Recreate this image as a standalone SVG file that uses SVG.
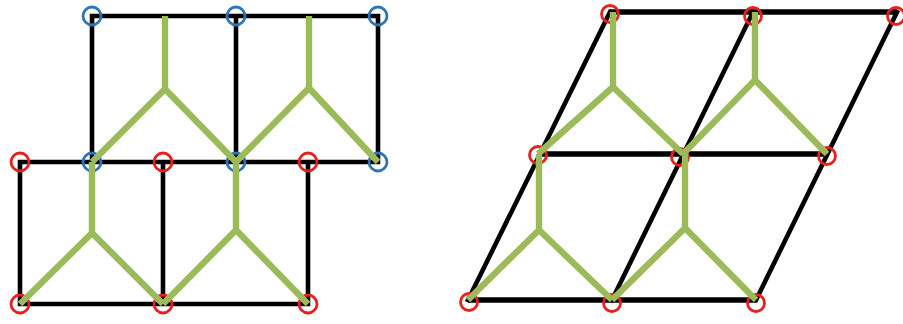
<svg xmlns="http://www.w3.org/2000/svg" width="903" height="324" viewBox="0 0 903 324">
<style>
.k{stroke:#000;stroke-width:4.6;stroke-linecap:square;fill:none}
.kh{stroke:#000;stroke-width:5.6;stroke-linecap:butt;fill:none}
.g{stroke:#9bbb59;stroke-width:6.4;stroke-linecap:butt;stroke-linejoin:miter;fill:none}
.b{stroke:#2e75b6;stroke-width:2.8;fill:none}
.r{stroke:#e8201c;stroke-width:2.8;fill:none}
</style>
<rect width="903" height="324" fill="#fff"/>
<g id="connectors">
<g id="lattice-left">
<path class="k" d="M92,16H378V162H20V304H308V162M92,16V162M236,16V162M163,162V304"/>
</g>
<g id="lattice-right">
<path class="kh" d="M610,12H897M538,154H827M468,300H756"/>
<path class="k" d="M468,300L610,12M612,300L753,12M756,300L897,12"/>
</g>
</g>
<g id="nodes">
<g id="L-top-1"><circle class="b" cx="92" cy="16" r="9"/></g>
<g id="L-top-2"><circle class="b" cx="236" cy="16" r="9"/></g>
<g id="L-top-3"><circle class="b" cx="378" cy="16" r="9"/></g>
<g id="L-mid-1"><circle class="r" cx="20" cy="162" r="9"/></g>
<g id="L-mid-2"><circle class="b" cx="92" cy="162" r="9"/></g>
<g id="L-mid-3"><circle class="r" cx="163" cy="162" r="9"/></g>
<g id="L-mid-4"><circle class="b" cx="236" cy="162" r="9"/></g>
<g id="L-mid-5"><circle class="r" cx="308" cy="162" r="9"/></g>
<g id="L-mid-6"><circle class="b" cx="378" cy="162" r="9"/></g>
<g id="L-bot-1"><circle class="r" cx="20" cy="304" r="9"/></g>
<g id="L-bot-2"><circle class="r" cx="163" cy="304" r="9"/></g>
<g id="L-bot-3"><circle class="r" cx="308" cy="304" r="9"/></g>
<g id="R-top-1"><circle class="r" cx="610" cy="14" r="8.5"/></g>
<g id="R-top-2"><circle class="r" cx="753" cy="16" r="8.5"/></g>
<g id="R-top-3"><circle class="r" cx="896" cy="16" r="8.5"/></g>
<g id="R-mid-1"><circle class="r" cx="538" cy="155" r="8.5"/></g>
<g id="R-mid-2"><circle class="r" cx="680" cy="157" r="8.5"/></g>
<g id="R-mid-3"><circle class="r" cx="827" cy="156" r="8.5"/></g>
<g id="R-bot-1"><circle class="r" cx="469" cy="302" r="8.5"/></g>
<g id="R-bot-2"><circle class="r" cx="612" cy="303" r="8.5"/></g>
<g id="R-bot-3"><circle class="r" cx="756" cy="303" r="8.5"/></g>
</g>
<g id="bonds">
<path class="g" d="M165,16V89L92,162M165,89L236,162"/>
<path class="g" d="M309,16V88L236,162M309,88L378,162"/>
<path class="g" d="M92,162V233L20,304M92,233L163,304"/>
<path class="g" d="M236,162V230L163,304M236,230L308,304"/>
<path class="g" d="M613,12V87L538,154M613,87L683,154"/>
<path class="g" d="M755,12V80L683,154M755,80L827,154"/>
<path class="g" d="M539,154V230L468,300M539,230L612,300"/>
<path class="g" d="M685,154V228L612,300M685,228L756,300"/>
</g>
</svg>
